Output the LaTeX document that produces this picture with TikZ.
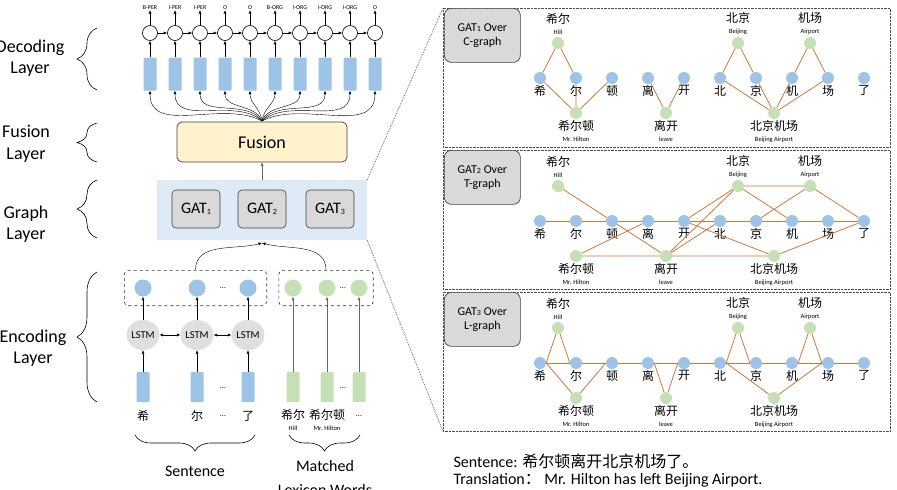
\documentclass[tikz,border=0pt]{standalone}
\usepackage{fontspec}
\setmainfont{Carlito}
\newfontfamily\cjk{Noto Sans CJK SC}
\usetikzlibrary{arrows.meta,positioning,shapes.geometric,decorations.pathreplacing,fit}

\definecolor{cblue}{RGB}{157,195,230}
\definecolor{cgreen}{RGB}{197,224,180}
\definecolor{cedge}{RGB}{205,120,55}
\definecolor{cgray}{RGB}{217,217,217}
\definecolor{cyellow}{RGB}{255,242,204}
\definecolor{cpanel}{RGB}{222,235,247}

\newcommand\fsz[1]{\fontsize{#1}{\dimexpr#1pt*6/5\relax}\selectfont}
\newcommand\wordlab[2]{{\cjk\fsz{12}#1}\\[-1pt]{\fsz{6.5}#2}}
\newcommand\gatsub[1]{\raisebox{-0.8pt}{\fsz{8}#1}}

\tikzset{
  >={Latex[length=3.5pt,width=3pt]},
  chr/.style={circle,fill=cblue,minimum size=12pt,inner sep=0pt},
  wrd/.style={circle,fill=cgreen,minimum size=12pt,inner sep=0pt},
  chtxt/.style={inner sep=0pt,font=\cjk\fsz{12}},
  wtxt/.style={inner sep=0pt,align=center},
  gedge/.style={draw=cedge,line width=0.8pt},
  tagtxt/.style={inner sep=0pt,font=\fsz{6}},
  crf/.style={circle,draw=black,fill=white,minimum size=15pt,inner sep=0pt,line width=0.6pt},
  hvec/.style={rectangle,fill=cblue,minimum width=13pt,minimum height=33pt,rounded corners=1pt},
  wvec/.style={rectangle,fill=cgreen,minimum width=13pt,minimum height=30pt,rounded corners=1pt},
  lstm/.style={ellipse,fill=cgray!85,minimum width=28pt,minimum height=30pt,inner sep=0pt,font=\fsz{10.5}},
  gatbox/.style={rectangle,rounded corners=4pt,draw=black!75,fill=cgray,minimum width=48pt,minimum height=38pt,font=\fsz{16},line width=0.6pt},
  gatlab/.style={rectangle,rounded corners=7pt,draw=black!75,fill=cgray,minimum width=76pt,minimum height=54pt,align=center,font=\fsz{12},line width=0.7pt},
  pbox/.style={rectangle,draw=black!70,densely dotted,minimum width=447pt,minimum height=139pt,inner sep=0pt},
  dbox/.style={rectangle,draw=black!80,dashed,rounded corners=4pt,line width=0.6pt},
  layertxt/.style={align=center,font=\fsz{18}},
  brace/.style={decorate,decoration={brace,amplitude=20pt,aspect=0.5},line width=0.6pt},
  bracedn/.style={decorate,decoration={brace,mirror,amplitude=16pt},line width=0.6pt},
  dots/.style={inner sep=0pt,font=\fsz{8}},
}

\begin{document}
\begin{tikzpicture}[x=1pt,y=-1pt]
\useasboundingbox (0,0) rectangle (897,490);

% layer names
\node[layertxt] (ldec) at (30,58) {Decoding\\Layer};
\node[layertxt] (lfus) at (26,144) {Fusion\\Layer};
\node[layertxt] (lgra) at (26,224) {Graph\\Layer};
\node[layertxt] (lenc) at (33,348) {Encoding\\Layer};
\draw[brace] (97,90) -- (97,28);
\draw[brace] (97,162) -- (97,123);
\draw[brace] (97,238) -- (97,180);
\draw[brace] (97,402) -- (97,272);

% decoding layer
\foreach \t [count=\i from 0] in {B-PER,I-PER,I-PER,O,O,B-ORG,I-ORG,I-ORG,I-ORG,O}{
  \node[tagtxt] (tag\i) at (150+25*\i,8) {\t};
  \node[crf] (dec\i) at (150+25*\i,33) {};
  \node[hvec] (hd\i) at (150+25*\i,74) {};
  \draw[->] (dec\i) -- (tag\i);
  \draw[->] (hd\i) -- (dec\i);
}
\foreach \i [evaluate=\i as \j using int(\i+1)] in {0,...,8}
  \draw[->] (dec\i) -- (dec\j);
\coordinate (fan) at (262,121);
\foreach \i in {0,...,9}{
  \pgfmathsetmacro\ang{90+(112-25*\i)*0.55}
  \draw[->] (fan) to[out=\ang,in=-90] (hd\i.south);
}

% fusion and graph layer
\node[rectangle,rounded corners=5pt,draw=black!75,fill=cyellow,minimum width=170pt,minimum height=40pt,font=\fsz{18},line width=0.7pt] (fus) at (262,142) {Fusion};
\node[rectangle,fill=cpanel,minimum width=210pt,minimum height=60pt] (gbox) at (262,210) {};
\foreach \x [count=\k] in {196,262,330}
  \node[gatbox] (gat\k) at (\x,209) {GAT\gatsub{\k}};
\draw[->,black!60] (gbox.north) -- (fus.south);

% encoding layer
\foreach \x [count=\i from 0] in {143,197,248}{
  \node[chr,minimum size=17pt] (ench\i) at (\x,288) {};
  \node[lstm] (lstm\i) at (\x,335) {LSTM};
  \node[hvec,minimum height=30pt] (inc\i) at (\x,387) {};
  \draw[->] (inc\i) -- (lstm\i);
  \draw[->] (lstm\i) -- (ench\i);
}
\draw[<->] (lstm0) -- (lstm1);
\draw[<->] (lstm1) -- (lstm2);
\foreach \x [count=\i from 0] in {293,327,359}{
  \node[wrd,minimum size=17pt] (encw\i) at (\x,288) {};
  \node[wvec] (inw\i) at (\x,387) {};
  \draw[->,black!60] (inw\i) -- (encw\i);
}
\node[dots] (d1) at (223,288) {...};
\node[dots] (d2) at (223,388) {...};
\node[dots] (d3) at (343,288) {...};
\node[dots] (d4) at (343,388) {...};
\node[dbox,fit=(ench0)(ench2),inner xsep=10pt,inner ysep=9pt] (sentbox) {};
\node[dbox,fit=(encw0)(encw2),inner xsep=5.5pt,inner ysep=9pt] (lexbox) {};
\coordinate (gin) at (262,243);
\draw[->] (sentbox.north) to[out=90,in=195] (gin);
\draw[->] (lexbox.north) to[out=90,in=-15] (gin);

% inputs
\node[chtxt] (s0) at (143,416) {希};
\node[chtxt] (s1) at (197,416) {尔};
\node[dots] (s2) at (223,416) {...};
\node[chtxt] (s3) at (248,416) {了};
\node[wtxt,anchor=north] (w0) at (293,409) {\wordlab{希尔}{Hill}};
\node[wtxt,anchor=north] (w1) at (327,409) {\wordlab{希尔顿}{Mr. Hilton}};
\node[dots] (w2) at (359,416) {...};
\draw[bracedn] (135,435) -- (255,435);
\draw[bracedn] (289,435) -- (360,435);
\node[font=\fsz{16}] (lsent) at (195,471) {Sentence};
\node[font=\fsz{16},align=center] (llex) at (325,478) {Matched\\[4pt]Lexicon Words};

% graph panels
\foreach \k/\yt/\yb/\g in {1/8/78/C,2/150/221/T,3/292/363/L}{
  \node[pbox,anchor=north west] (pan\k) at (443,\yt) {};
  \node[gatlab,anchor=north west] (pan\k lab) at (444,\yt) {GAT\gatsub{\k} Over\\\g-graph};
  \foreach \ch [count=\i from 0] in {希,尔,顿,离,开,北,京,机,场,了}{
    \node[chr] (p\k c\i) at (540+36*\i,\yb) {};
    \node[chtxt,below=1pt of p\k c\i] (p\k t\i) {\ch};
  }
  \node[wrd] (p\k hill) at (558,\yb-35) {};
  \node[wrd] (p\k bj) at (738,\yb-35) {};
  \node[wrd] (p\k ap) at (810,\yb-35) {};
  \node[wrd] (p\k hilton) at (576,\yb+35) {};
  \node[wrd] (p\k leave) at (666,\yb+35) {};
  \node[wrd] (p\k bjap) at (774,\yb+35) {};
  \node[wtxt,above=2pt of p\k hill] (p\k hillt) {\wordlab{希尔}{Hill}};
  \node[wtxt,above=2pt of p\k bj] (p\k bjt) {\wordlab{北京}{Beijing}};
  \node[wtxt,above=2pt of p\k ap] (p\k apt) {\wordlab{机场}{Airport}};
  \node[wtxt,below=1pt of p\k hilton] (p\k hiltont) {\wordlab{希尔顿}{Mr. Hilton}};
  \node[wtxt,below=1pt of p\k leave] (p\k leavet) {\wordlab{离开}{leave}};
  \node[wtxt,below=1pt of p\k bjap] (p\k bjapt) {\wordlab{北京机场}{Beijing Airport}};
}

% C-graph
\draw[gedge] (p1hill) -- (p1c0) (p1hill) -- (p1c1)
  (p1hilton) -- (p1c0) (p1hilton) -- (p1c1) (p1hilton) -- (p1c2)
  (p1leave) -- (p1c3) (p1leave) -- (p1c4)
  (p1bj) -- (p1c5) (p1bj) -- (p1c6)
  (p1ap) -- (p1c7) (p1ap) -- (p1c8)
  (p1bjap) -- (p1c5) (p1bjap) -- (p1c6) (p1bjap) -- (p1c7) (p1bjap) -- (p1c8);

% T-graph
\foreach \i [evaluate=\i as \j using int(\i+1)] in {0,...,8}
  \draw[gedge] (p2c\i) -- (p2c\j);
\draw[gedge] (p2hill) -- (p2c2)
  (p2hilton) -- (p2c3) (p2hilton) -- (p2leave) (p2c2) -- (p2leave)
  (p2leave) -- (p2c5) (p2leave) -- (p2bj) (p2leave) -- (p2bjap)
  (p2c4) -- (p2bj) (p2c4) -- (p2bjap)
  (p2bj) -- (p2c7) (p2bj) -- (p2ap) (p2c6) -- (p2ap)
  (p2ap) -- (p2c9) (p2bjap) -- (p2c9);

% L-graph
\foreach \i [evaluate=\i as \j using int(\i+1)] in {0,...,8}
  \draw[gedge] (p3c\i) -- (p3c\j);
\draw[gedge] (p3hill) -- (p3c0.east) (p3hill) -- (p3c1.west)
  (p3hilton) -- (p3c0.east) (p3hilton) -- (p3c2.west)
  (p3leave) -- (p3c3.east) (p3leave) -- (p3c4.west)
  (p3bj) -- (p3c5.east) (p3bj) -- (p3c6.west)
  (p3ap) -- (p3c7.east) (p3ap) -- (p3c8.west)
  (p3bjap) -- (p3c5.east) (p3bjap) -- (p3c8.west);

% zoom lines
\draw[black!60,densely dotted,line width=0.8pt] (gbox.north east) -- (pan1.north west);
\draw[black!60,densely dotted,line width=0.8pt] (gbox.south east) -- (pan3.south west);

% example sentence
\node[anchor=west,font=\fsz{16}] (sent) at (450,461) {Sentence: {\cjk 希尔顿离开北京机场了。}};
\node[anchor=west,font=\fsz{16}] (trans) at (450,480) {Translation{\cjk ：} Mr. Hilton has left Beijing Airport.};
\end{tikzpicture}
\end{document}
